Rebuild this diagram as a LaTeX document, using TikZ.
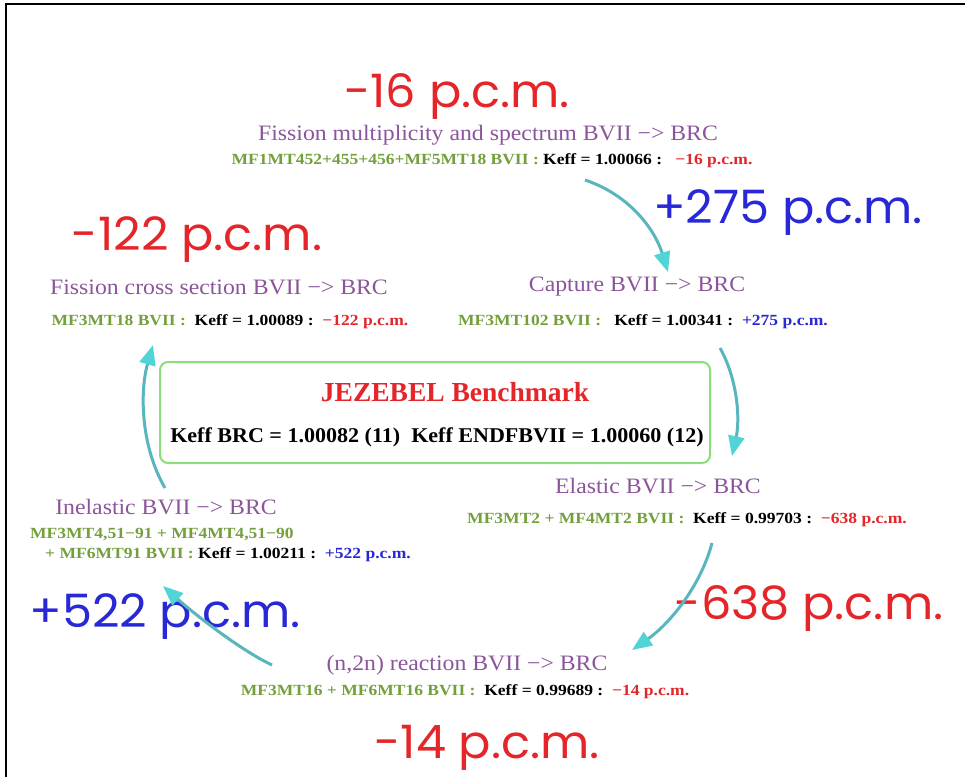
\documentclass[tikz,border=0pt]{standalone}
\usepackage{fontspec}
\setmainfont{Liberation Serif}
\newfontfamily\pcmfont{Poppins}[FakeStretch=1.04]
\newfontfamily\ttlfont{Liberation Serif}[FakeStretch=1.08]
\newfontfamily\datafont{Liberation Serif}[FakeStretch=1.13]
\newfontfamily\keffont{Liberation Serif}[FakeStretch=1.05]
\usetikzlibrary{arrows.meta}
\definecolor{ttl}{RGB}{140,85,155}
\definecolor{grn}{RGB}{115,160,60}
\definecolor{redt}{RGB}{228,38,42}
\definecolor{bluet}{RGB}{40,40,215}
\definecolor{boxg}{RGB}{140,222,120}
\definecolor{arrowc}{RGB}{88,182,188}
\definecolor{headc}{RGB}{80,212,214}
\tikzset{
  ttlnode/.style={font=\ttlfont\fontsize{22}{24}\selectfont, text=ttl, inner sep=0pt},
  datanode/.style={font=\datafont\fontsize{15.5}{17}\selectfont\bfseries, inner sep=0pt, align=left},
  pcmnode/.style={font=\pcmfont\fontsize{46}{50}\selectfont, inner sep=0pt},
  flow/.style={draw=arrowc, line width=3pt, -{Triangle[length=20pt,width=16pt,color=headc]}},
  benchbox/.style={draw=boxg, line width=2pt, rounded corners=8pt}
}
\begin{document}
\begin{tikzpicture}[x=1pt,y=-1pt]
\useasboundingbox (0,0) rectangle (965,777);
\fill[white] (0,0) rectangle (965,777);
% frame
\coordinate (fA) at (6,777);
\coordinate (fB) at (6,4);
\coordinate (fC) at (965,4);
\draw[line width=2.5pt, black] (fA) -- (fB) -- (fC);

% top: fission multiplicity
\node[pcmnode, text=redt] (pA) at (457,97) {-16 p.c.m.};
\node[ttlnode] (tA) at (488,135) {Fission multiplicity and spectrum BVII −> BRC};
\node[datanode] (dA) at (492,161) {{\color{grn}MF1MT452+455+456+MF5MT18 BVII :} Keff = 1.00066 :\ \ \ {\color{redt}−16 p.c.m.}};

% capture
\node[pcmnode, text=bluet] (pC) at (788,213) {+275 p.c.m.};
\node[ttlnode] (tC) at (637,287) {Capture BVII −> BRC};
\node[datanode] (dC) at (643,322) {{\color{grn}MF3MT102 BVII :}\ \ \ Keff = 1.00341 :\ \ {\color{bluet}+275 p.c.m.}};

% fission cross section
\node[pcmnode, text=redt] (pF) at (197,240) {-122 p.c.m.};
\node[ttlnode] (tF) at (219,287) {Fission cross section BVII −> BRC};
\node[datanode] (dF) at (230,322) {{\color{grn}MF3MT18 BVII :}\ \ Keff = 1.00089 :\ \ {\color{redt}−122 p.c.m.}};

% benchmark box
\node[benchbox, minimum width=550pt, minimum height=101pt] (box) at (435,412.5) {};
\node[font=\fontsize{27.5}{30}\selectfont\bfseries, text=redt, inner sep=0pt] (jez) at (455,392) {JEZEBEL Benchmark};
\node[font=\keffont\fontsize{21}{23}\selectfont\bfseries, inner sep=0pt] (keff) at (437,437) {Keff BRC = 1.00082 (11)\ \ Keff ENDFBVII = 1.00060 (12)};

% elastic
\node[ttlnode] (tE) at (658,486) {Elastic BVII −> BRC};
\node[datanode] (dE) at (687,520) {{\color{grn}MF3MT2 + MF4MT2 BVII :}\ \ Keff = 0.99703 :\ \ {\color{redt}−638 p.c.m.}};
\node[pcmnode, text=redt] (pE) at (809,608) {-638 p.c.m.};

% inelastic
\node[ttlnode] (tI) at (166,507) {Inelastic BVII −> BRC};
\node[datanode, anchor=west] (dI1) at (30,535) {{\color{grn}MF3MT4,51−91 + MF4MT4,51−90}};
\node[datanode, anchor=west] (dI2) at (45,555) {{\color{grn}+ MF6MT91 BVII :} Keff = 1.00211 :\ \ {\color{bluet}+522 p.c.m.}};
\node[pcmnode, text=bluet] (pI) at (165,617) {+522 p.c.m.};

% (n,2n)
\node[ttlnode] (tN) at (467,665) {(n,2n) reaction BVII −> BRC};
\node[datanode] (dN) at (465,692) {{\color{grn}MF3MT16 + MF6MT16 BVII :}\ \ Keff = 0.99689 :\ \ {\color{redt}−14 p.c.m.}};
\node[pcmnode, text=redt] (pN) at (487,748) {-14 p.c.m.};

% arrows
\coordinate (a1s) at (585,180);
\coordinate (a1e) at (668,272);
\coordinate (a2s) at (720,348);
\coordinate (a2e) at (732,456);
\coordinate (a3s) at (712,543);
\coordinate (a3e) at (632,650);
\coordinate (a4s) at (272,665);
\coordinate (a4e) at (163,586);
\coordinate (a5s) at (165,488);
\coordinate (a5e) at (153,345);
\draw[flow] (a1s) .. controls (630,195) and (655,230) .. (a1e);
\draw[flow] (a2s) .. controls (738,380) and (740,420) .. (a2e);
\draw[flow] (a3s) .. controls (700,588) and (668,625) .. (a3e);
\draw[flow] (a4s) .. controls (240,650) and (192,612) .. (a4e);
\draw[flow] (a5s) .. controls (140,445) and (140,390) .. (a5e);
\end{tikzpicture}
\end{document}
